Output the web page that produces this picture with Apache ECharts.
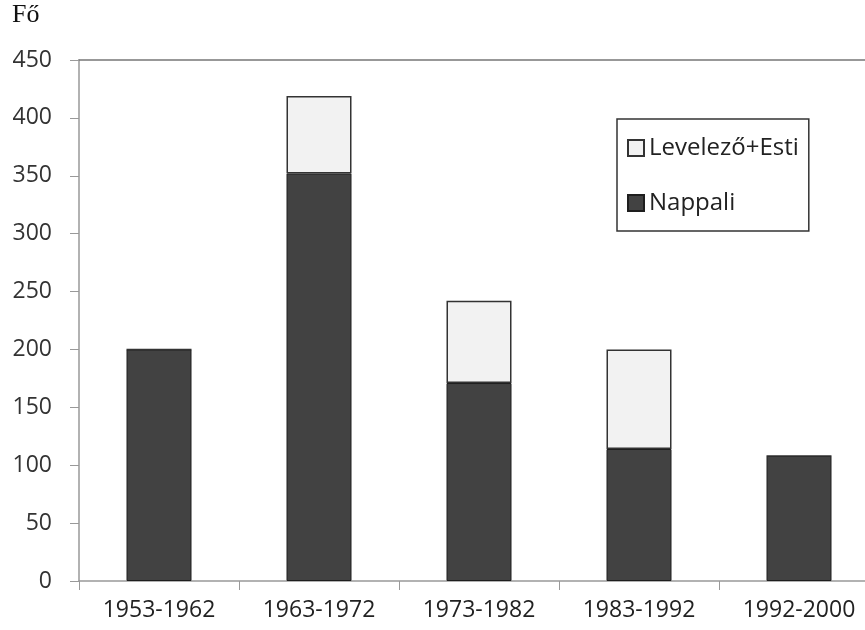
<!DOCTYPE html>
<html>
<head>
<meta charset="utf-8">
<script src="https://cdn.jsdelivr.net/npm/echarts@6/dist/echarts.min.js"></script>
<style>
  html, body { margin: 0; padding: 0; background: #fff; overflow: hidden; }
  #chart { width: 865px; height: 630px; }
</style>
</head>
<body>
<div id="chart"></div>
<script>
// adatok
const categories = ['1953-1962', '1963-1972', '1973-1982', '1983-1992', '1992-2000'];
const nappali = [200, 352, 171, 114, 108];
const levelezoEsti = [0, 67, 71, 86, 0];
const yTicks = { min: 0, max: 450, interval: 50 };

const myChart = echarts.init(document.getElementById('chart'));
const font = 'Open Sans';

const option = {
    animation: false,
    title: {
        text: 'Fő',
        left: 7,
        top: -3,
        textStyle: { fontFamily: 'Liberation Serif', fontWeight: 'normal', fontSize: 26, color: '#111' }
    },
    legend: {
        orient: 'vertical',
        left: 617,
        top: 119,
        padding: [17, 10, 16, 10],
        itemGap: 31,
        itemWidth: 16,
        itemHeight: 16,
        icon: 'rect',
        borderColor: '#333',
        borderWidth: 1.5,
        data: ['Levelező+Esti', 'Nappali'],
        textStyle: { fontFamily: font, fontSize: 24, color: '#222' }
    },
    // a rajzterület jobbra kilóg a képből
    grid: {
        left: 79,
        top: 60,
        bottom: 49,
        width: 800,
        outerBoundsMode: 'none'
    },
    xAxis: [
        {
            type: 'category',
            data: categories,
            axisLine: { show: true, lineStyle: { color: '#999', width: 1.5 } },
            axisTick: { show: true, alignWithLabel: false, length: 9, lineStyle: { color: '#999' } },
            axisLabel: { fontFamily: font, fontSize: 23, color: '#222', margin: 18 },
            splitLine: { show: false }
        },
        {
            // felső keret vonal
            type: 'category',
            position: 'top',
            data: categories,
            axisLine: { show: true, lineStyle: { color: '#777', width: 1.5 } },
            axisTick: { show: false },
            axisLabel: { show: false },
            splitLine: { show: false }
        }
    ],
    yAxis: {
        type: 'value',
        min: yTicks.min,
        max: yTicks.max,
        interval: yTicks.interval,
        axisLine: { show: true, lineStyle: { color: '#999', width: 1.5 } },
        axisTick: { show: true, length: 9, lineStyle: { color: '#999' } },
        axisLabel: { fontFamily: font, fontSize: 23, color: '#333', margin: 27 },
        splitLine: { show: false }
    },
    series: [
        {
            name: 'Nappali',
            type: 'bar',
            stack: 'total',
            barWidth: 65,
            data: nappali,
            itemStyle: { color: '#424242', borderColor: '#1e1e1e', borderWidth: 1 }
        },
        {
            name: 'Levelező+Esti',
            type: 'bar',
            stack: 'total',
            barWidth: 65,
            data: levelezoEsti,
            itemStyle: { color: '#f2f2f2', borderColor: '#333', borderWidth: 1.5 }
        }
    ]
};

myChart.setOption(option);
</script>
</body>
</html>
